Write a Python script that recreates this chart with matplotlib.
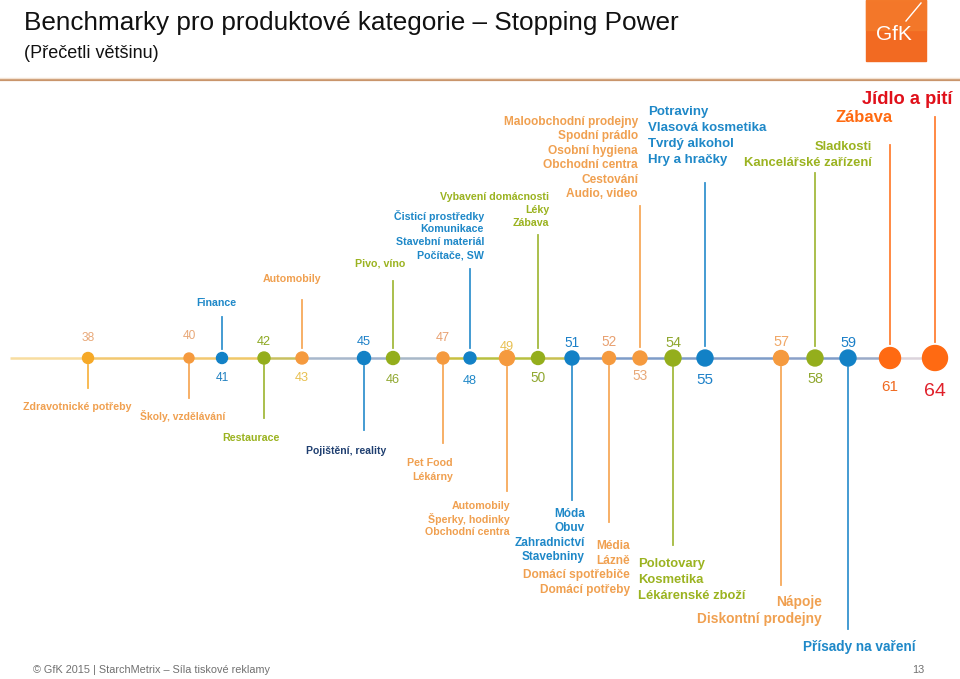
import matplotlib
matplotlib.use("Agg")
import matplotlib.pyplot as plt
from matplotlib.patches import Circle, Rectangle

plt.rcParams['font.family'] = ['Liberation Sans', 'DejaVu Sans']

# benchmark values (Stopping Power) and the categories attached to each
values = [38, 40, 41, 42, 43, 45, 46, 47, 48, 49, 50, 51, 52, 53, 54, 55, 57, 58, 59, 61, 64]
categories = [
    ["Zdravotnické potřeby"],
    ["Školy, vzdělávání"],
    ["Finance"],
    ["Restaurace"],
    ["Automobily"],
    ["Pojištění, reality"],
    ["Pivo, víno"],
    ["Pet Food", "Lékárny"],
    ["Čisticí prostředky", "Komunikace", "Stavební materiál", "Počítače, SW"],
    ["Automobily", "Šperky, hodinky", "Obchodní centra"],
    ["Vybavení domácnosti", "Léky", "Zábava"],
    ["Móda", "Obuv", "Zahradnictví", "Stavebniny"],
    ["Média", "Lázně", "Domácí spotřebiče", "Domácí potřeby"],
    ["Maloobchodní prodejny", "Spodní prádlo", "Osobní hygiena",
     "Obchodní centra", "Cestování", "Audio, video"],
    ["Polotovary", "Kosmetika", "Lékárenské zboží"],
    ["Potraviny", "Vlasová kosmetika", "Tvrdý alkohol", "Hry a hračky"],
    ["Nápoje", "Diskontní prodejny"],
    ["Sladkosti", "Kancelářské zařízení"],
    ["Přísady na vaření"],
    ["Zábava"],
    ["Jídlo a pití"],
]

# ---- layout (pixel positions on the slide) ----
TL = 358  # timeline y
xs = [88, 189, 222, 264, 302, 364, 393, 443, 470, 507, 538, 572, 609, 640,
      673, 705, 781, 815, 848, 890, 935]
radius = [5.5, 5, 5.5, 6, 6, 6.5, 6.5, 6, 6, 7.5, 6.5, 7, 6.5, 7, 8, 8, 7.5, 8, 8, 10.5, 12.5]
stem_end = [388, 398, 317, 418, 300, 430, 281, 443, 269, 491, 235, 500, 522, 206,
            545, 183, 585, 173, 629, 145, 117]
# label anchor x, alignment, first line y, line step, font size
lab_x = [77, 183, 216, 251, 292, 346, 380, 453, 484, 510, 549, 585, 630, 638,
         638, 648, 822, 872, 859, 893, 952]
lab_ha = ['center', 'center', 'center', 'center', 'center', 'center', 'center',
          'right', 'right', 'right', 'right', 'right', 'right', 'right',
          'left', 'left', 'right', 'right', 'center', 'right', 'right']
lab_y = [407, 416, 303, 438, 279, 451, 264, 463, 216, 506, 197, 514, 546, 122,
         564, 112, 602, 147, 647, 117, 99]
lab_step = [0, 0, 0, 0, 0, 0, 0, 14, 13, 13, 13, 14.3, 14.7, 14.4, 16, 16, 17, 16, 0, 0, 0]
lab_fs = [7.7, 7.5, 7.7, 7.7, 7.7, 7.5, 7.7, 7.7, 7.7, 7.7, 7.7, 8.5, 8.6, 8.6, 9.4, 9.5,
          9.9, 9.4, 9.8, 12, 13.2]
num_y = [338, 336, 378, 342, 378, 342, 380, 338, 381, 347, 378, 343, 342, 376,
         343, 380, 342, 379, 343, 387, 391]
num_fs = [8.6, 8.6, 8.6, 9.2, 9.2, 9.2, 9.2, 9.2, 9.2, 9.2, 9.8, 9.8, 9.8, 9.8, 10.4,
          11, 10.4, 10.4, 10.4, 11, 14]

ORANGE = '#F59A3E'
BLUE = '#1281C6'
GREEN = '#94AE1C'
RED_OR = '#FF6A12'
pt_col = ['#F6A927', ORANGE, BLUE, GREEN, ORANGE, BLUE, GREEN, ORANGE, BLUE, ORANGE,
          GREEN, BLUE, ORANGE, ORANGE, GREEN, BLUE, ORANGE, GREEN, BLUE, RED_OR, RED_OR]
txt_col = ['#F0A050', '#F0A050', '#1E88C8', '#9BB320', '#F0A050', '#1F3F70', '#9BB320',
           '#F0A050', '#1E88C8', '#F0A050', '#9BB320', '#1E88C8', '#F0A050', '#F0A050',
           '#9BB320', '#1E88C8', '#F0A050', '#9BB320', '#1E88C8', '#FF6A10', '#E0101A']
num_col = ['#E8A878', '#E8A878', '#2080C0', '#8CA820', '#E8C050', '#1C80C8', '#90A830',
           '#E8A070', '#2088C8', '#E8C050', '#90A830', '#1C80C8', '#E8A070', '#E8A878',
           '#90A830', '#1C80C8', '#F0A868', '#90A830', '#1C80C8', '#F06A20', '#E0202A']
seg_col = ['#F8DDA0', '#F2C870', '#F2C870', '#F0C868', '#C8C060', '#A8B8CC', '#9CB0CC',
           '#A8B8C8', '#C8C040', '#B8C040', '#B8C040', '#C8C050', '#7E9CC8', '#7E9CC8',
           '#7E9CC8', '#7E9CC8', '#7E9CC8', '#8AA0C8', '#7E9CC8', '#9AAAC8', '#DCD4DC']

fig = plt.figure(figsize=(9.6, 6.79), dpi=100)
ax = fig.add_axes([0, 0, 1, 1])
ax.set_xlim(0, 960)
ax.set_ylim(679, 0)
ax.axis('off')

# header
ax.text(24, 23, "Benchmarky pro produktové kategorie – Stopping Power",
        fontsize=18.8, va='center', ha='left', color='#111111')
ax.text(24, 53, "(Přečetli většinu)", fontsize=13, va='center', ha='left', color='#111111')
ax.plot([0, 960], [80, 80], color='#C9956B', lw=1.6)
ax.plot([0, 960], [78, 78], color='#F3E2D2', lw=1.0)

# GfK logo
ax.add_patch(Rectangle((866, 0), 60, 61, color='#F26A22'))
ax.add_patch(Rectangle((866, 0), 60, 30, color='#F4802E', alpha=0.6))
ax.text(894, 35, "GfK", color='white', fontsize=15, ha='center', va='center')
ax.plot([921, 906], [3, 21], color='white', lw=1.0)

# timeline segments
seg_x = [10] + xs
for i in range(len(seg_x) - 1):
    ax.plot([seg_x[i], seg_x[i + 1]], [TL, TL], color=seg_col[i], lw=1.8,
            solid_capstyle='butt', zorder=1)

for i, v in enumerate(values):
    x = xs[i]
    r = radius[i]
    up = stem_end[i] < TL
    y0 = TL - r - 4 if up else TL + r + 1
    ax.plot([x, x], [y0, stem_end[i]], color=pt_col[i], lw=1.3, alpha=0.85, zorder=1)
    ax.add_patch(Circle((x, TL), r, color=pt_col[i], zorder=3))
    ax.text(x, num_y[i], str(v), color=num_col[i], fontsize=num_fs[i],
            ha='center', va='center')
    for j, line in enumerate(categories[i]):
        ax.text(lab_x[i], lab_y[i] + j * lab_step[i], line, color=txt_col[i],
                fontsize=lab_fs[i], fontweight='bold', ha=lab_ha[i], va='center')

# footer
ax.text(33, 670, "© GfK 2015 | StarchMetrix – Síla tiskové reklamy", fontsize=7.8,
        color='#707070', va='center', ha='left')
ax.text(918, 670, "13", fontsize=7.8, color='#707070', va='center', ha='center')

fig.savefig("out.png", dpi=100)
